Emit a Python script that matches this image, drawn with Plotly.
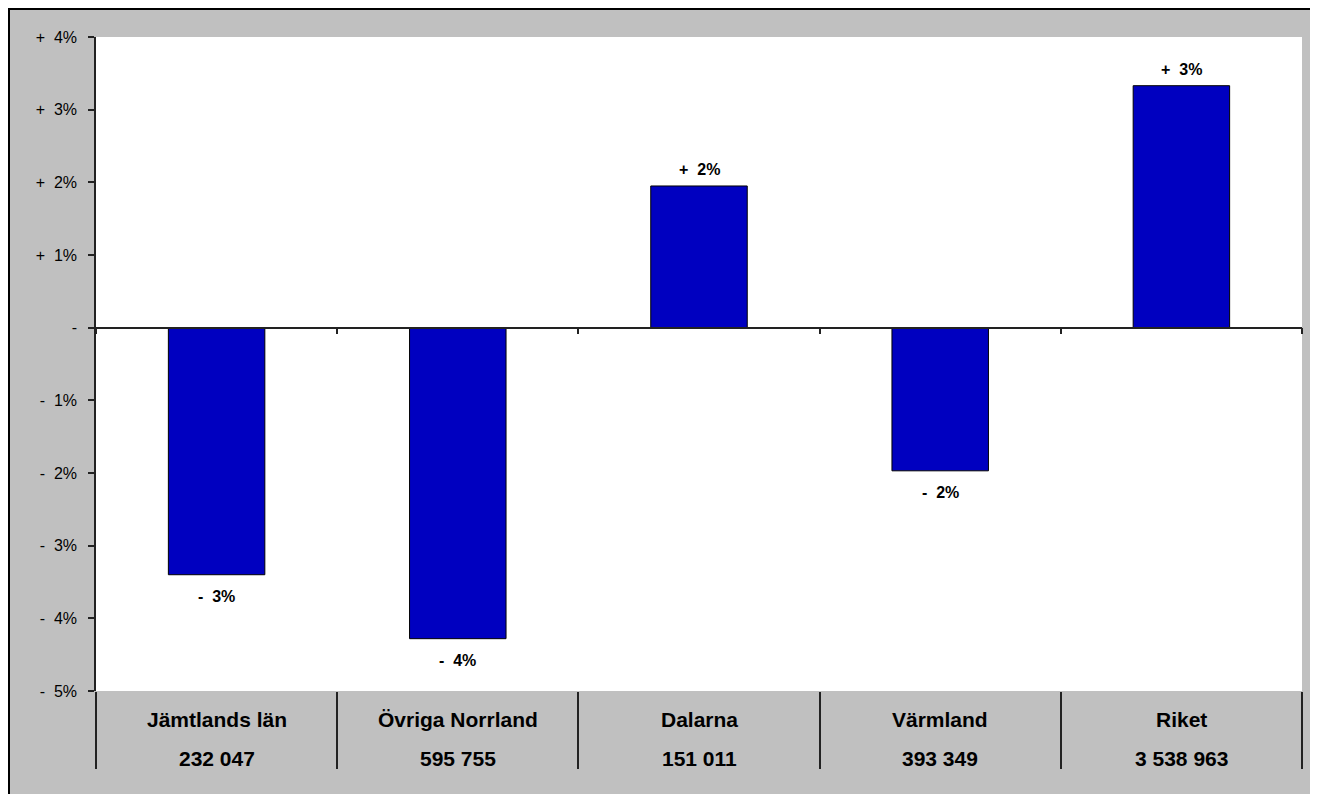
import plotly.graph_objects as go

# regions and population (shown under the names)
regions = ["Jämtlands län", "Övriga Norrland", "Dalarna", "Värmland", "Riket"]
population = ["232 047", "595 755", "151 011", "393 349", "3 538 963"]
# change, as a fraction
change = [-0.0340, -0.0428, 0.0195, -0.0197, 0.0333]

y_ticks = [-0.05, -0.04, -0.03, -0.02, -0.01, 0.0, 0.01, 0.02, 0.03, 0.04]

NB = "\u00a0\u00a0"
FONT = "Arial, Liberation Sans, sans-serif"


def pct_label(v):
    """Excel style '+ 0%;- 0%;-' formatting"""
    p = round(v * 100)
    if p == 0:
        return "-"
    sign = "+" if p > 0 else "-"
    return f"{sign}{NB}{abs(p)}%"


# page has an 8px body margin, so the figure sits at (8, 8)
W, H = 1306, 800
L, R, T, B = 88, 12, 29, 117
pw, ph = W - L - R, H - T - B

fig = go.Figure()
fig.add_trace(go.Bar(
    x=regions, y=change,
    marker=dict(color="#0000C0", line=dict(color="#000000", width=1)),
    width=0.4, showlegend=False, hoverinfo="skip",
))
# empty trace so the zero-line axis exists
fig.add_trace(go.Scatter(x=[], y=[], xaxis="x2", showlegend=False))

# value labels above / below bars
for r, v in zip(regions, change):
    fig.add_annotation(
        x=r, y=v, xref="x", yref="y", text=f"<b>{pct_label(v)}</b>",
        showarrow=False, yanchor="middle",
        yshift=16 if v > 0 else -22,
        font=dict(family=FONT, size=16, color="#000000"),
    )

# category labels with population below
for r, p in zip(regions, population):
    fig.add_annotation(
        x=r, y=0, xref="x", yref="paper", text=f"<b>{r}</b>",
        showarrow=False, yanchor="middle", yshift=-28,
        font=dict(family=FONT, size=21, color="#000000"),
    )
    fig.add_annotation(
        x=r, y=0, xref="x", yref="paper", text=f"<b>{p}</b>",
        showarrow=False, yanchor="middle", yshift=-67,
        font=dict(family=FONT, size=21, color="#000000"),
    )


def px_x(v):
    return (v - L) / pw


def px_y(v):
    return (H - B - v) / ph


# chart frame (bottom edge runs off the page)
fig.add_shape(type="rect", xref="paper", yref="paper",
              x0=px_x(1), x1=px_x(W - 1), y0=px_y(1), y1=px_y(H + 20),
              fillcolor="rgba(0,0,0,0)", line=dict(color="#000000", width=2))

fig.update_layout(
    width=W, height=H,
    margin=dict(l=L, r=R, t=T, b=B, pad=0),
    paper_bgcolor="#C0C0C0",
    plot_bgcolor="#FFFFFF",
    bargap=0.6,
    font=dict(family=FONT, size=16, color="#000000"),
    xaxis=dict(
        type="category", range=[-0.5, 4.5],
        showgrid=False, zeroline=False, showline=False,
        ticks="outside", tickson="boundaries", ticklen=77,
        tickwidth=1.5, tickcolor="#222222",
        showticklabels=False,
    ),
    xaxis2=dict(
        overlaying="x", anchor="free", position=5 / 9,
        range=[-0.5, 4.5], tickvals=[-0.5, 0.5, 1.5, 2.5, 3.5, 4.5],
        showgrid=False, zeroline=False, showline=True,
        linecolor="#222222", linewidth=1.5,
        ticks="outside", ticklen=6, tickwidth=1.5, tickcolor="#222222",
        showticklabels=False,
    ),
    yaxis=dict(
        range=[-0.05, 0.04],
        tickvals=y_ticks, ticktext=[pct_label(v) for v in y_ticks],
        showgrid=False, zeroline=False,
        showline=True, linecolor="#222222", linewidth=1.5,
        ticks="outside", ticklen=6, tickwidth=1.5, tickcolor="#222222",
        ticklabelstandoff=8,
        tickfont=dict(family=FONT, size=16, color="#000000"),
    ),
)

fig.write_html("out.html")
